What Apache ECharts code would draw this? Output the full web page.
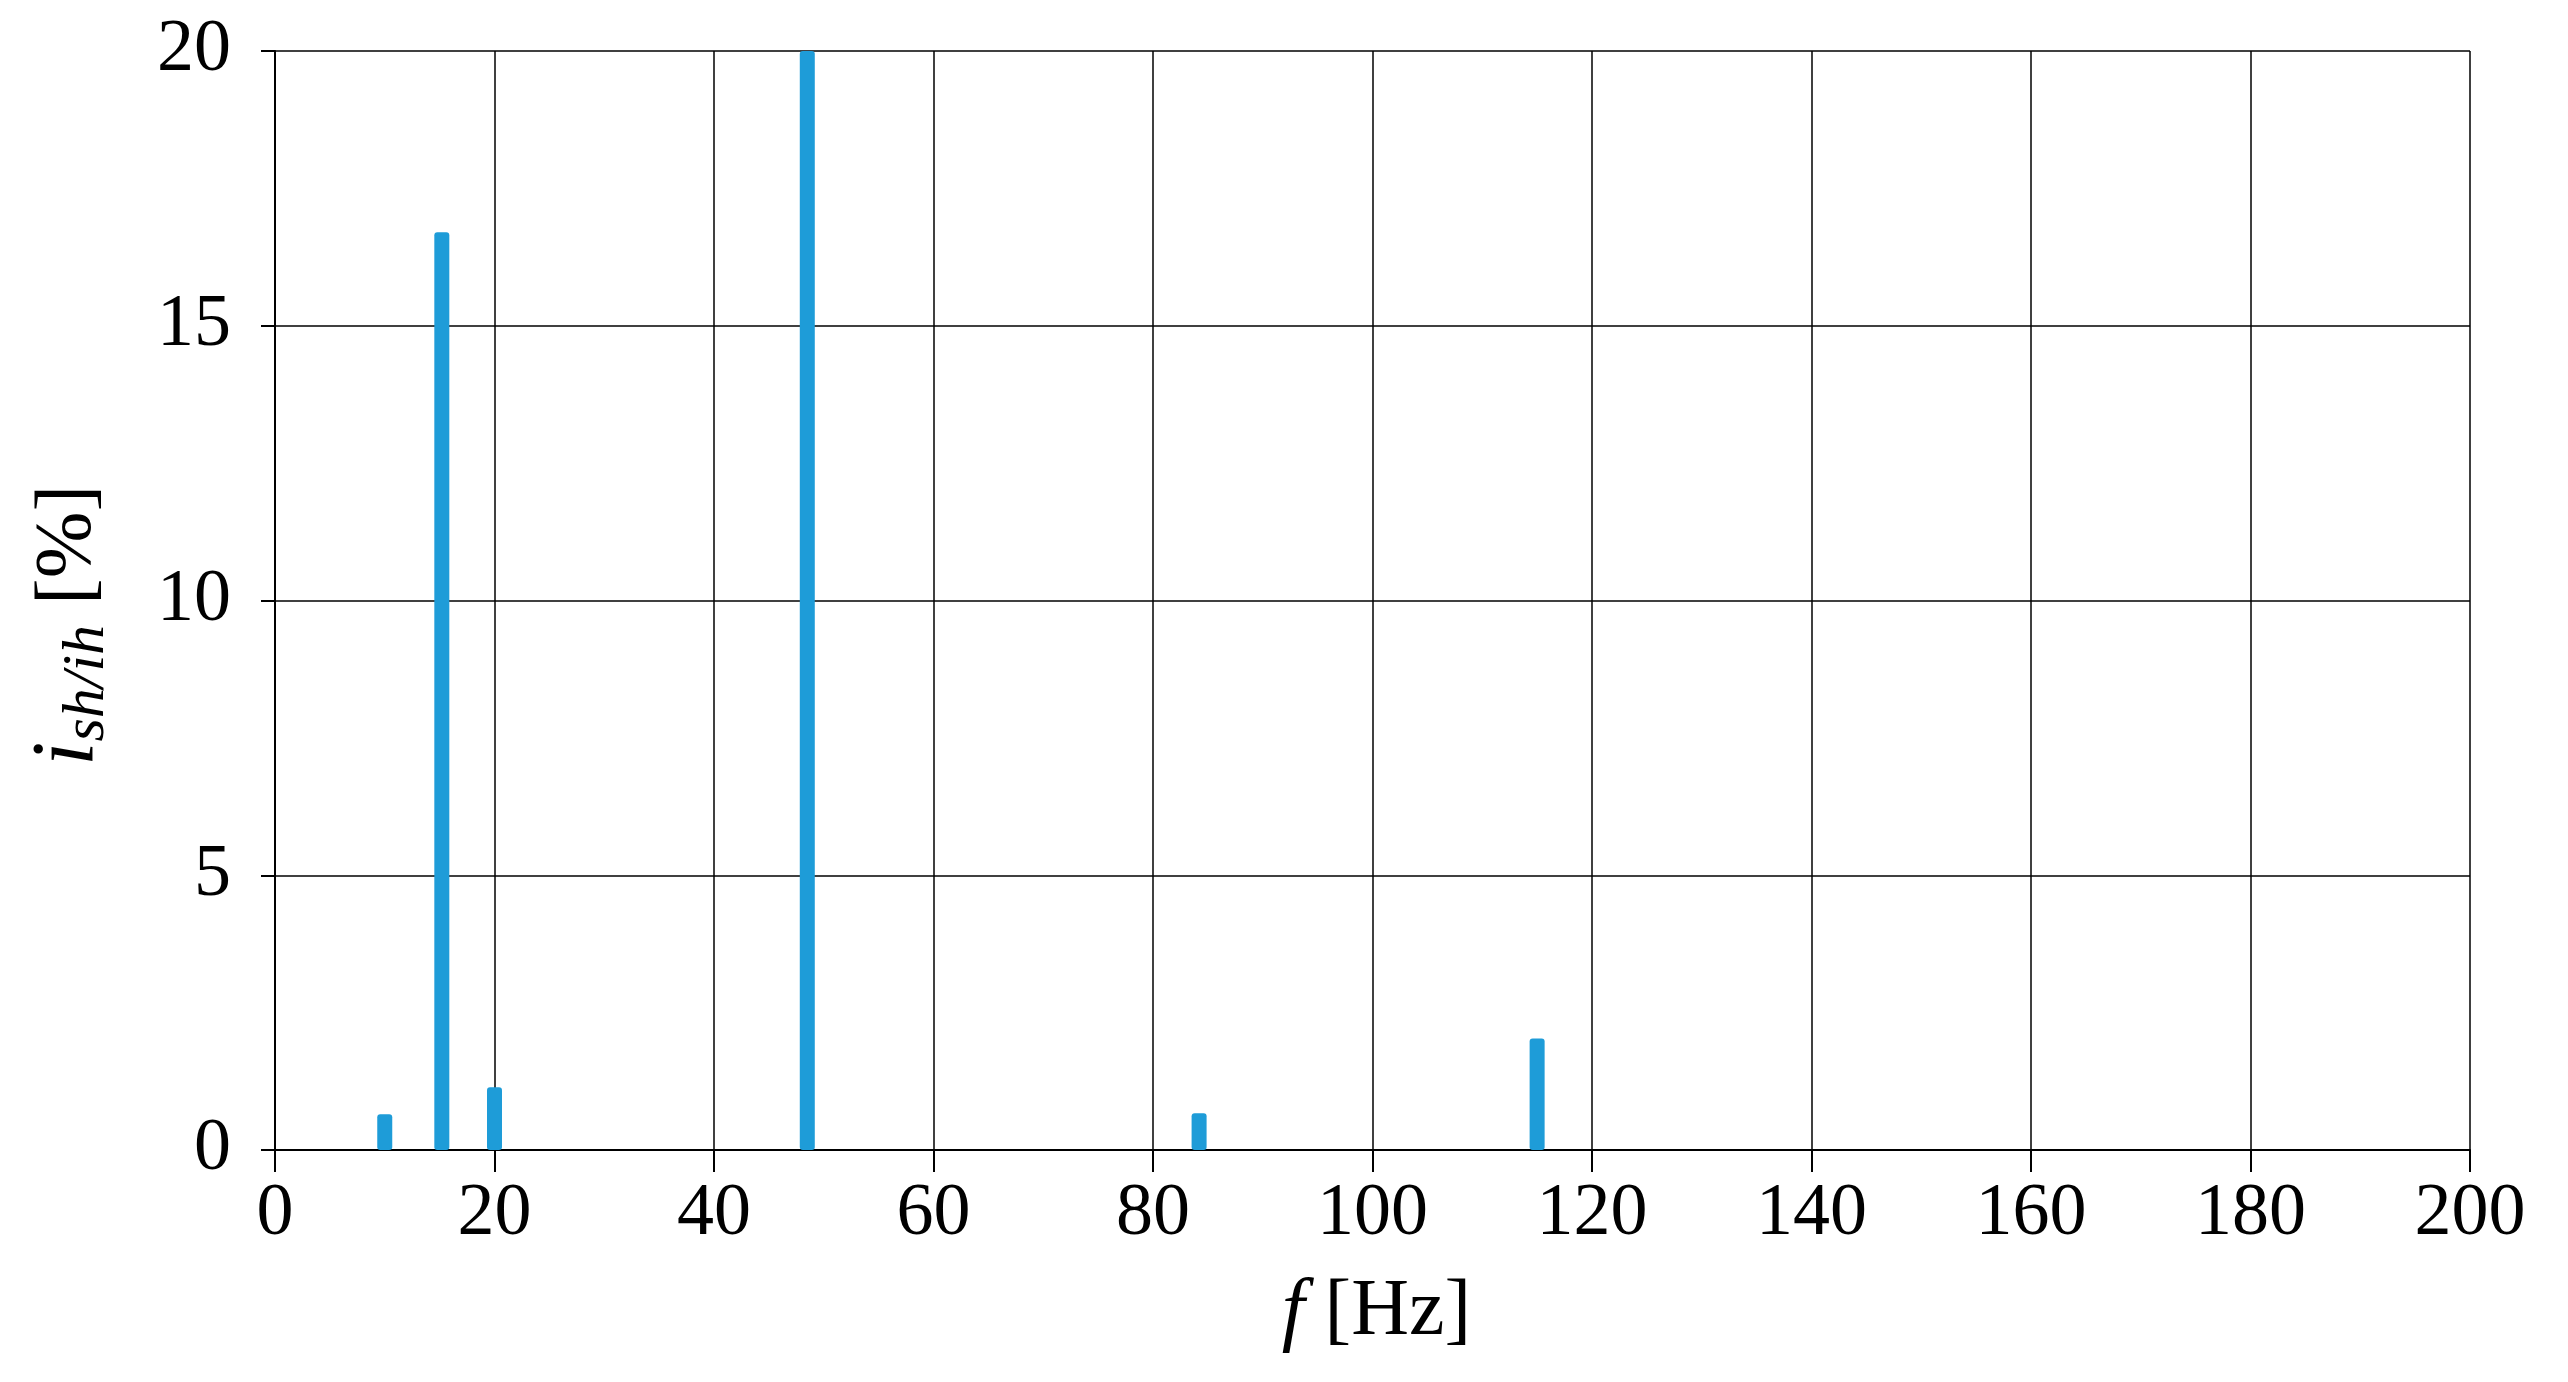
<!DOCTYPE html>
<html>
<head>
<meta charset="utf-8">
<script src="https://cdn.jsdelivr.net/npm/echarts@6/dist/echarts.min.js"></script>
<style>
  html, body { margin: 0; padding: 0; background: #fff; }
  #chart { width: 2568px; height: 1382px; }
</style>
</head>
<body>
<div id="chart"></div>
<script>
// spectrum lines: frequency [Hz] and amplitude [%]
const freqs = [10, 15.2, 20, 48.5, 84.2, 115]
const amps = [0.65, 16.7, 1.14, 20, 0.67, 2.03]
const xTicks = [0, 200, 20]   // min, max, step
const yTicks = [0, 20, 5]

const barData = freqs.map((f, i) => [f, amps[i]])

const chart = echarts.init(document.getElementById('chart'))

const axisFont = 'Liberation Serif'

const option = {
  backgroundColor: '#ffffff',
  animation: false,
  grid: {
    left: 275,
    right: 98,
    top: 51,
    bottom: 232
  },
  xAxis: {
    type: 'value',
    min: xTicks[0],
    max: xTicks[1],
    interval: xTicks[2],
    name: '{f|f}{n|\u00a0[Hz]}',
    nameLocation: 'middle',
    nameGap: 122,
    nameTextStyle: {
      padding: [0, 0, 0, 8],
      rich: {
        f: { fontFamily: axisFont, fontStyle: 'italic', fontSize: 82, color: '#000' },
        n: { fontFamily: axisFont, fontSize: 80, color: '#000' }
      }
    },
    axisLine: { onZero: false, lineStyle: { color: '#000', width: 2 } },
    axisTick: { show: true, inside: false, length: 22, lineStyle: { color: '#000', width: 2 } },
    axisLabel: { color: '#000', fontFamily: axisFont, fontSize: 74, margin: 28 },
    splitLine: { show: true, lineStyle: { color: '#000', width: 1.5 } }
  },
  yAxis: {
    type: 'value',
    min: yTicks[0],
    max: yTicks[1],
    interval: yTicks[2],
    name: '{i|i}{s|sh/ih}{n|\u00a0[%]}',
    nameLocation: 'middle',
    nameRotate: 90,
    nameGap: 158,
    nameTextStyle: {
      padding: [0, 50, 0, 0],
      rich: {
        i: { fontFamily: axisFont, fontStyle: 'italic', fontSize: 88, color: '#000', lineHeight: 96 },
        s: { fontFamily: axisFont, fontStyle: 'italic', fontSize: 60, color: '#000', lineHeight: 96, verticalAlign: 'bottom', padding: [22, 0, 0, 0] },
        n: { fontFamily: axisFont, fontSize: 80, color: '#000', lineHeight: 96 }
      }
    },
    axisLine: { show: true, lineStyle: { color: '#000', width: 2 } },
    axisTick: { show: true, inside: false, length: 14, lineStyle: { color: '#000', width: 2 } },
    axisLabel: { color: '#000', fontFamily: axisFont, fontSize: 74, margin: 44 },
    splitLine: { show: true, lineStyle: { color: '#000', width: 1.5 } }
  },
  series: [
    {
      type: 'bar',
      data: barData,
      barWidth: 15,
      itemStyle: { color: '#1e9cd8', borderRadius: 3 },
      z: 3
    }
  ]
}

chart.setOption(option)
</script>
</body>
</html>
